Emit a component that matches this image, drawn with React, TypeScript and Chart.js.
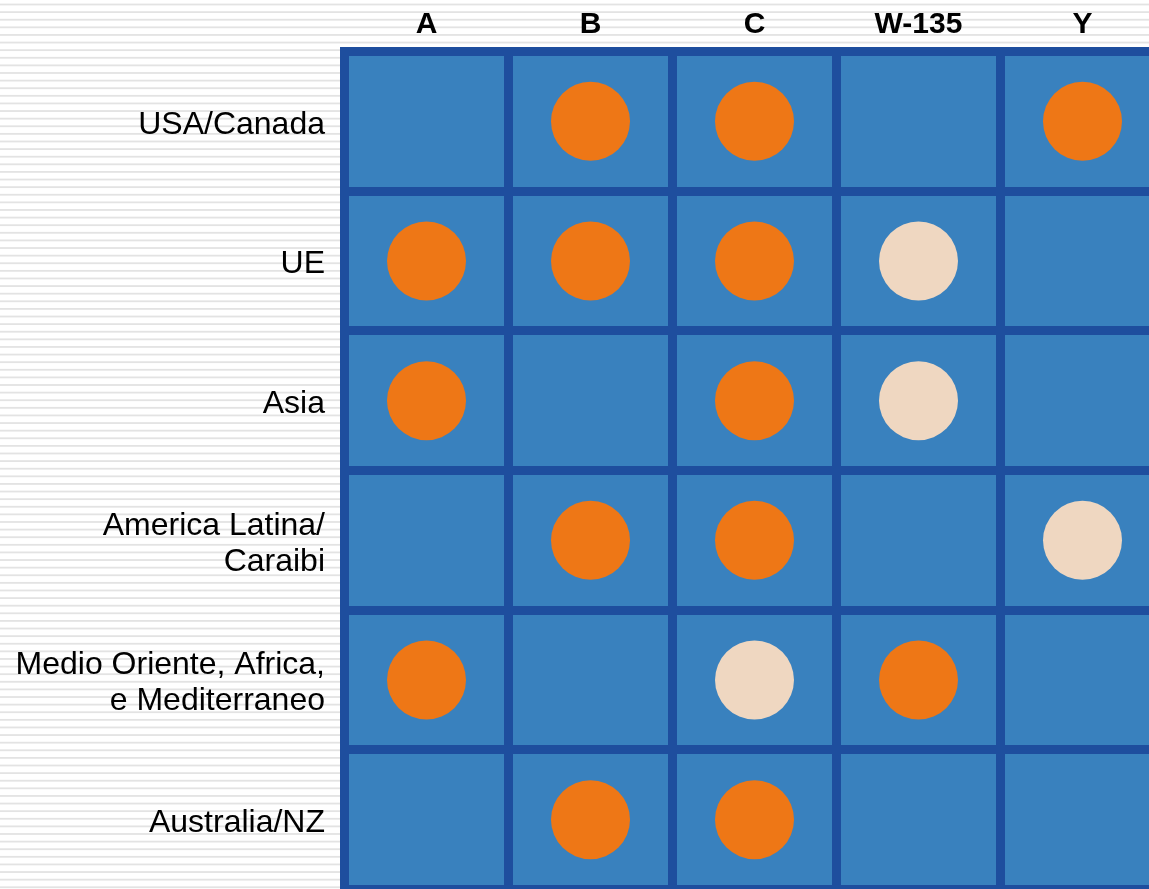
import React, { useEffect, useRef } from "react";
import { Chart, registerables } from "chart.js";

Chart.register(...registerables);

const columns: string[] = ["A", "B", "C", "W-135", "Y"];
const regions: string[] = [
  "USA/Canada",
  "UE",
  "Asia",
  "America Latina/\nCaraibi",
  "Medio Oriente, Africa,\ne Mediterraneo",
  "Australia/NZ",
];
// 0 = none, 1 = full (orange), 2 = partial (light)
const statusUSA = [0, 1, 1, 0, 1];
const statusUE = [1, 1, 1, 2, 0];
const statusAsia = [1, 0, 1, 2, 0];
const statusLatAm = [0, 1, 1, 0, 2];
const statusMEA = [1, 0, 2, 1, 0];
const statusAus = [0, 1, 1, 0, 0];
const statusRows = [statusUSA, statusUE, statusAsia, statusLatAm, statusMEA, statusAus];

const ORANGE = "#ee7716";
const LIGHT = "#efd7c1";
const CELL = "#3981be";
const DARK = "#1e4e9e";

function pointsFor(level: number) {
  const pts: { x: string; y: string }[] = [];
  statusRows.forEach((row, r) => {
    row.forEach((v, c) => {
      if (v === level) pts.push({ x: columns[c], y: regions[r] });
    });
  });
  return pts;
}

const backgroundPlugin = {
  id: "bgStripes",
  beforeDraw(chart: any) {
    const { ctx, width, height, chartArea } = chart;
    ctx.save();
    ctx.fillStyle = "#ffffff";
    ctx.fillRect(0, 0, width, height);
    ctx.fillStyle = "#e3e3e3";
    for (let y = 3.6; y < height; y += 7.61) {
      ctx.fillRect(0, y, width, 1.8);
    }
    ctx.fillStyle = CELL;
    ctx.fillRect(
      chartArea.left,
      chartArea.top,
      chartArea.right - chartArea.left,
      chartArea.bottom - chartArea.top
    );
    ctx.restore();
  },
};

export default function App() {
  const ref = useRef<HTMLCanvasElement | null>(null);
  useEffect(() => {
    if (!ref.current) return;
    const chart = new Chart(ref.current, {
      type: "scatter",
      data: {
        datasets: [
          {
            label: "Disponibile",
            data: pointsFor(1),
            backgroundColor: ORANGE,
            borderWidth: 0,
            pointRadius: 39.5,
            pointHoverRadius: 39.5,
          },
          {
            label: "Parziale",
            data: pointsFor(2),
            backgroundColor: LIGHT,
            borderWidth: 0,
            pointRadius: 39.5,
            pointHoverRadius: 39.5,
          },
        ],
      },
      options: {
        responsive: false,
        animation: false,
        events: [],
        layout: {
          autoPadding: false,
          padding: { left: 0, top: 0, right: 5.5, bottom: 5.5 },
        },
        plugins: {
          legend: { display: false },
          tooltip: { enabled: false },
        },
        scales: {
          x: {
            type: "category",
            labels: columns,
            position: "top",
            offset: true,
            grid: {
              offset: true,
              color: DARK,
              lineWidth: 9,
              drawTicks: false,
            },
            border: { display: true, color: DARK, width: 9 },
            ticks: {
              color: "#000000",
              padding: 9,
              maxRotation: 0,
              autoSkip: false,
              font: {
                family: "'Liberation Sans', Arial, sans-serif",
                size: 30,
                weight: "bold",
                lineHeight: 1.2,
              },
            },
            afterFit(scale: any) {
              scale.height = 51.5;
              scale.paddingLeft = 0;
              scale.paddingRight = 0;
            },
          },
          y: {
            type: "category",
            labels: regions,
            position: "left",
            offset: true,
            grid: {
              offset: true,
              color: DARK,
              lineWidth: 9,
              drawTicks: false,
            },
            border: { display: true, color: DARK, width: 9 },
            ticks: {
              color: "#000000",
              padding: 19.5,
              labelOffset: 3.5,
              autoSkip: false,
              callback: (_v: any, i: number) => regions[i].split("\n"),
              font: {
                family: "'Liberation Sans', Arial, sans-serif",
                size: 32,
                lineHeight: 1.125,
              },
            },
            afterFit(scale: any) {
              scale.width = 344.5;
              scale.paddingTop = 0;
              scale.paddingBottom = 0;
            },
          },
        },
      },
      plugins: [backgroundPlugin],
    } as any);
    return () => chart.destroy();
  }, []);

  return (
    <div
      style={{
        position: "fixed",
        left: 0,
        top: 0,
        width: 1149,
        height: 889,
        overflow: "hidden",
        background: "#ffffff",
      }}
    >
      <canvas ref={ref} width={1170} height={895} style={{ display: "block" }} />
    </div>
  );
}
